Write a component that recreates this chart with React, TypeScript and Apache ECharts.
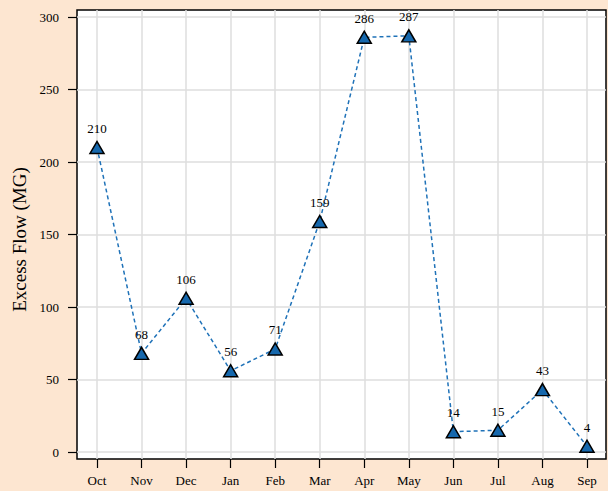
import React, { useEffect, useRef } from "react";
import * as echarts from "echarts";

const months = ["Oct", "Nov", "Dec", "Jan", "Feb", "Mar", "Apr", "May", "Jun", "Jul", "Aug", "Sep"];
const excessFlow = [210, 68, 106, 56, 71, 159, 286, 287, 14, 15, 43, 4];
const yTicks = { min: 0, max: 300, interval: 50 };

const FONT = "'Liberation Serif', 'DejaVu Serif', serif";

const hiddenAxis = {
  axisLine: { show: false },
  axisTick: { show: false },
  axisLabel: { show: false },
  splitLine: { show: false },
};

export default function App() {
  const ref = useRef<HTMLDivElement>(null);
  useEffect(() => {
    if (!ref.current) return;
    const chart = echarts.init(ref.current, null, { renderer: "svg" });
    chart.setOption({
      animation: false,
      backgroundColor: "#fde6d1",
      grid: [
        // 0: frame
        {
          left: 77,
          right: 2,
          top: 10,
          bottom: 32,
          show: true,
          backgroundColor: "#ffffff",
          borderColor: "#000000",
          borderWidth: 1.5,
          z: 0,
        },
        // 1: y axis, horizontal grid lines
        { left: 77, right: 2, top: 17, bottom: 39 },
        // 2: x axis, vertical grid lines
        { left: 97, right: 21, top: 10, bottom: 32 },
        // 3: series
        { left: 97, right: 21, top: 17, bottom: 39 },
      ],
      xAxis: [
        { type: "category", gridIndex: 0, data: months, ...hiddenAxis },
        { type: "category", gridIndex: 1, data: months, ...hiddenAxis },
        {
          type: "category",
          gridIndex: 2,
          data: months,
          boundaryGap: false,
          axisLine: { show: false },
          axisTick: { show: true, length: 9, lineStyle: { color: "#000", width: 1.2 } },
          axisLabel: { show: true, margin: 15, color: "#000", fontFamily: FONT, fontSize: 13 },
          splitLine: { show: true, lineStyle: { color: "#dedede", width: 1.5 } },
        },
        { type: "category", gridIndex: 3, data: months, boundaryGap: false, ...hiddenAxis },
      ],
      yAxis: [
        { type: "value", gridIndex: 0, ...hiddenAxis },
        {
          type: "value",
          gridIndex: 1,
          min: yTicks.min,
          max: yTicks.max,
          interval: yTicks.interval,
          name: "Excess Flow (MG)",
          nameLocation: "middle",
          nameGap: 48,
          nameTextStyle: { color: "#000", fontFamily: FONT, fontSize: 19, padding: [0, 0, 0, -10] },
          axisLine: { show: false },
          axisTick: { show: true, length: 9, lineStyle: { color: "#000", width: 1.2 } },
          axisLabel: { margin: 18, color: "#000", fontFamily: FONT, fontSize: 13 },
          splitLine: { show: true, lineStyle: { color: "#dedede", width: 1.5 } },
        },
        { type: "value", gridIndex: 2, ...hiddenAxis },
        {
          type: "value",
          gridIndex: 3,
          min: yTicks.min,
          max: yTicks.max,
          interval: yTicks.interval,
          ...hiddenAxis,
        },
      ],
      series: [
        {
          type: "line",
          xAxisIndex: 3,
          yAxisIndex: 3,
          data: excessFlow,
          z: 5,
          lineStyle: { color: "#1f72b8", width: 1.5, type: [4, 3] },
          symbol: "triangle",
          symbolSize: [14, 12],
          itemStyle: { color: "#1668ad", borderColor: "#000", borderWidth: 1.5 },
          label: {
            show: true,
            position: "top",
            distance: 6,
            color: "#000",
            fontFamily: FONT,
            fontSize: 13,
          },
        },
      ],
    });
    return () => chart.dispose();
  }, []);
  return <div ref={ref} style={{ width: 608, height: 491, position: "absolute", left: 0, top: 0 }} />;
}
